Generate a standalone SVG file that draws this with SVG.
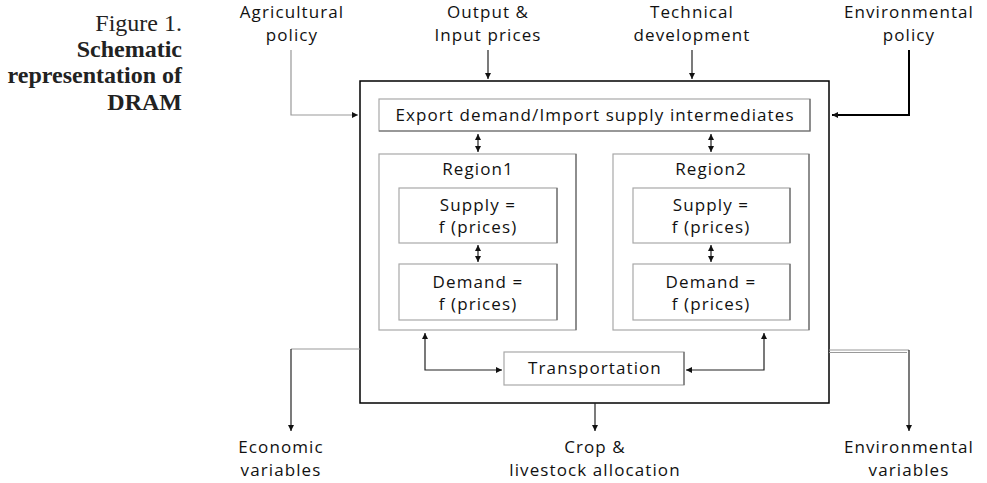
<svg xmlns="http://www.w3.org/2000/svg" width="987" height="483" viewBox="0 0 987 483">
<style>
.cap{font-family:"Liberation Serif",serif;font-size:24px;fill:#222;text-anchor:end}
.b{font-weight:bold}
.t{font-family:"Open Sans","Noto Sans",sans-serif;font-size:17px;fill:#111;text-anchor:middle;letter-spacing:1.1px}
.box{fill:#fff;stroke:#a8a8a8;stroke-width:1.2}
.sh{fill:none;stroke:#666;stroke-width:1.2}
.main{fill:#fff;stroke:#000;stroke-width:1.5}
.c{fill:none;stroke:#222;stroke-width:1.2}
.g{fill:none;stroke:#999;stroke-width:1.2}
.k{fill:none;stroke:#000;stroke-width:2}
</style>
<defs>
<marker id="ah" viewBox="0 0 8 8" refX="8" refY="4" markerWidth="6" markerHeight="6" orient="auto-start-reverse" markerUnits="userSpaceOnUse">
<path d="M0,0 L8,4 L0,8 z" fill="#111"/>
</marker>
</defs>
<g id="caption">
<text class="cap" x="182" y="31">Figure 1.</text>
<text class="cap b" x="182" y="57">Schematic</text>
<text class="cap b" x="182" y="83">representation of</text>
<text class="cap b" x="182" y="110">DRAM</text>
</g>
<g id="main">
<rect class="main" x="360" y="81" width="469" height="322"/>
</g>
<g id="export">
<rect class="box" x="379" y="99" width="431" height="32"/>
<path class="sh" d="M810,99 V131 H379"/>
<text class="t" x="595" y="121">Export demand/Import supply intermediates</text>
</g>
<g id="region1">
<rect class="box" x="379" y="154" width="197" height="176"/>
<path class="sh" d="M576,154 V330"/>
<text class="t" x="478" y="175">Region1</text>
</g>
<g id="region2">
<rect class="box" x="613" y="154" width="196" height="176"/>
<path class="sh" d="M809,154 V330"/>
<text class="t" x="711" y="175">Region2</text>
</g>
<g id="supply1">
<rect class="box" x="399" y="188" width="158" height="55"/>
<path class="sh" d="M557,188 V243"/>
<text class="t" x="478" y="211">Supply =</text>
<text class="t" x="478" y="233">f (prices)</text>
</g>
<g id="supply2">
<rect class="box" x="633" y="188" width="157" height="55"/>
<path class="sh" d="M790,188 V243"/>
<text class="t" x="711" y="211">Supply =</text>
<text class="t" x="711" y="233">f (prices)</text>
</g>
<g id="demand1">
<rect class="box" x="399" y="264" width="158" height="56"/>
<path class="sh" d="M557,264 V320"/>
<text class="t" x="478" y="288">Demand =</text>
<text class="t" x="478" y="310">f (prices)</text>
</g>
<g id="demand2">
<rect class="box" x="633" y="264" width="157" height="56"/>
<path class="sh" d="M790,264 V320"/>
<text class="t" x="711" y="288">Demand =</text>
<text class="t" x="711" y="310">f (prices)</text>
</g>
<g id="transport">
<rect class="box" x="504" y="352" width="180" height="33"/>
<path class="sh" d="M684,352 V385"/>
<text class="t" x="595" y="374">Transportation</text>
</g>
<g id="labels">
<text class="t" x="292" y="18">Agricultural</text>
<text class="t" x="292" y="41">policy</text>
<text class="t" x="488" y="18">Output &amp;</text>
<text class="t" x="488" y="41">Input prices</text>
<text class="t" x="692" y="18">Technical</text>
<text class="t" x="692" y="41">development</text>
<text class="t" x="909" y="18">Environmental</text>
<text class="t" x="909" y="41">policy</text>
<text class="t" x="281" y="453">Economic</text>
<text class="t" x="281" y="476">variables</text>
<text class="t" x="595" y="453">Crop &amp;</text>
<text class="t" x="595" y="476">livestock allocation</text>
<text class="t" x="909" y="453">Environmental</text>
<text class="t" x="909" y="476">variables</text>
</g>
<g id="connectors">
<path class="c" d="M488,50 V79" marker-end="url(#ah)"/>
<path class="c" d="M692,50 V79" marker-end="url(#ah)"/>
<path class="g" d="M291,50 V115 H358" marker-end="url(#ah)"/>
<path class="k" d="M909,50 V115 H832" marker-end="url(#ah)"/>
<path class="c" d="M478,134 V152" marker-start="url(#ah)" marker-end="url(#ah)"/>
<path class="c" d="M711,134 V152" marker-start="url(#ah)" marker-end="url(#ah)"/>
<path class="c" d="M478,245 V262" marker-start="url(#ah)" marker-end="url(#ah)"/>
<path class="c" d="M711,245 V262" marker-start="url(#ah)" marker-end="url(#ah)"/>
<path class="c" d="M425,333 V370 H502" marker-start="url(#ah)" marker-end="url(#ah)"/>
<path class="c" d="M764,333 V370 H686" marker-start="url(#ah)" marker-end="url(#ah)"/>
<path class="g" d="M360,349 H291"/>
<path class="c" d="M291,349 V431" marker-end="url(#ah)"/>
<path class="c" d="M595,403 V431" marker-end="url(#ah)"/>
<path class="g" d="M829,350 H909"/>
<path class="g" d="M829,352.5 H907"/>
<path class="c" d="M909,350 V431" marker-end="url(#ah)"/>
</g>
</svg>
